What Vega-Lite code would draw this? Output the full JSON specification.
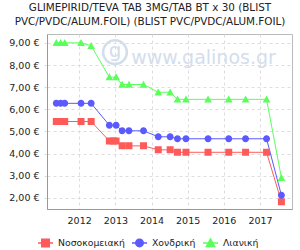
{
  "$schema": "https://vega.github.io/schema/vega-lite/v6.json",
  "width": 245,
  "height": 175,
  "autosize": "none",
  "padding": {"left": 47, "top": 34, "right": 8, "bottom": 41},
  "title": {
    "text": ["GLIMEPIRID/TEVA TAB 3MG/TAB BT x 30 (BLIST", "PVC/PVDC/ALUM.FOIL) (BLIST PVC/PVDC/ALUM.FOIL)"],
    "font": "DejaVu Sans", "fontSize": 10.4, "fontWeight": "normal", "color": "#222",
    "anchor": "middle", "dx": -19.5, "offset": 7, "lineHeight": 13.5
  },
  "config": {
    "view": {"stroke": "#bbb", "strokeWidth": 1},
    "axis": {"labelFont": "DejaVu Sans", "labelFontSize": 9.5, "labelColor": "#222", "domainColor": "#999", "gridColor": "#ddd", "gridDash": [3, 3], "title": null},
    "legend": {"labelFont": "DejaVu Sans", "labelFontSize": 9.3, "labelColor": "#222", "symbolSize": 225, "symbolStrokeWidth": 1.5, "labelOffset": 4, "columnPadding": 4}
  },
  "data": {"values": [
      {"date": "2011-05-15", "series": "Νοσοκομειακή", "value": 5.45},
      {"date": "2011-06-28", "series": "Νοσοκομειακή", "value": 5.45},
      {"date": "2011-08-08", "series": "Νοσοκομειακή", "value": 5.45},
      {"date": "2012-01-20", "series": "Νοσοκομειακή", "value": 5.45},
      {"date": "2012-05-01", "series": "Νοσοκομειακή", "value": 5.45},
      {"date": "2012-11-01", "series": "Νοσοκομειακή", "value": 4.57},
      {"date": "2012-12-10", "series": "Νοσοκομειακή", "value": 4.57},
      {"date": "2013-01-08", "series": "Νοσοκομειακή", "value": 4.57},
      {"date": "2013-03-10", "series": "Νοσοκομειακή", "value": 4.35},
      {"date": "2013-05-18", "series": "Νοσοκομειακή", "value": 4.35},
      {"date": "2013-10-12", "series": "Νοσοκομειακή", "value": 4.35},
      {"date": "2014-03-10", "series": "Νοσοκομειακή", "value": 4.17},
      {"date": "2014-07-08", "series": "Νοσοκομειακή", "value": 4.17},
      {"date": "2014-09-20", "series": "Νοσοκομειακή", "value": 4.06},
      {"date": "2014-12-15", "series": "Νοσοκομειακή", "value": 4.06},
      {"date": "2015-07-26", "series": "Νοσοκομειακή", "value": 4.06},
      {"date": "2016-02-20", "series": "Νοσοκομειακή", "value": 4.06},
      {"date": "2016-08-08", "series": "Νοσοκομειακή", "value": 4.06},
      {"date": "2017-03-08", "series": "Νοσοκομειακή", "value": 4.06},
      {"date": "2017-08-05", "series": "Νοσοκομειακή", "value": 1.83},
      {"date": "2011-05-15", "series": "Χονδρική", "value": 6.27},
      {"date": "2011-06-28", "series": "Χονδρική", "value": 6.27},
      {"date": "2011-08-08", "series": "Χονδρική", "value": 6.27},
      {"date": "2012-01-20", "series": "Χονδρική", "value": 6.27},
      {"date": "2012-05-01", "series": "Χονδρική", "value": 6.27},
      {"date": "2012-11-01", "series": "Χονδρική", "value": 5.28},
      {"date": "2013-01-08", "series": "Χονδρική", "value": 5.28},
      {"date": "2013-03-10", "series": "Χονδρική", "value": 5.03},
      {"date": "2013-05-18", "series": "Χονδρική", "value": 5.03},
      {"date": "2013-10-12", "series": "Χονδρική", "value": 5.03},
      {"date": "2014-03-10", "series": "Χονδρική", "value": 4.76},
      {"date": "2014-07-08", "series": "Χονδρική", "value": 4.76},
      {"date": "2014-09-20", "series": "Χονδρική", "value": 4.67},
      {"date": "2014-12-15", "series": "Χονδρική", "value": 4.67},
      {"date": "2015-07-26", "series": "Χονδρική", "value": 4.67},
      {"date": "2016-02-20", "series": "Χονδρική", "value": 4.67},
      {"date": "2016-08-08", "series": "Χονδρική", "value": 4.67},
      {"date": "2017-03-08", "series": "Χονδρική", "value": 4.67},
      {"date": "2017-08-05", "series": "Χονδρική", "value": 2.12},
      {"date": "2011-05-15", "series": "Λιανική", "value": 9.0},
      {"date": "2011-06-28", "series": "Λιανική", "value": 9.0},
      {"date": "2011-08-08", "series": "Λιανική", "value": 9.0},
      {"date": "2012-01-20", "series": "Λιανική", "value": 9.0},
      {"date": "2012-05-01", "series": "Λιανική", "value": 8.87},
      {"date": "2012-11-01", "series": "Λιανική", "value": 7.45},
      {"date": "2013-01-08", "series": "Λιανική", "value": 7.45},
      {"date": "2013-03-10", "series": "Λιανική", "value": 7.12},
      {"date": "2013-05-18", "series": "Λιανική", "value": 7.12},
      {"date": "2013-10-12", "series": "Λιανική", "value": 7.12},
      {"date": "2014-03-10", "series": "Λιανική", "value": 6.77},
      {"date": "2014-07-08", "series": "Λιανική", "value": 6.77},
      {"date": "2014-09-20", "series": "Λιανική", "value": 6.45},
      {"date": "2014-12-15", "series": "Λιανική", "value": 6.45},
      {"date": "2015-07-26", "series": "Λιανική", "value": 6.45},
      {"date": "2016-02-20", "series": "Λιανική", "value": 6.45},
      {"date": "2016-08-08", "series": "Λιανική", "value": 6.45},
      {"date": "2017-03-08", "series": "Λιανική", "value": 6.45},
      {"date": "2017-08-05", "series": "Λιανική", "value": 2.91}
  ]},
  "encoding": {
    "x": {
      "field": "date", "type": "temporal",
      "scale": {"domain": [{"year": 2011, "month": 2, "date": 10}, {"year": 2017, "month": 11, "date": 20}]},
      "axis": {"format": "%Y", "tickCount": {"interval": "year", "step": 1}, "ticks": false, "labelPadding": 6, "gridDash": [3, 3]}
    },
    "y": {
      "field": "value", "type": "quantitative",
      "scale": {"domain": [1.5, 9.4], "nice": false, "zero": false},
      "axis": {"values": [2, 3, 4, 5, 6, 7, 8, 9], "labelExpr": "replace(format(datum.value, '.2f'), '.', ',') + ' €'", "ticks": true, "tickSize": 5, "tickColor": "#ddd", "tickDash": [3, 3], "labelPadding": 3}
    }
  },
  "layer": [
    {
      "data": {"values": [{"date": "2015-06-10", "value": 8.3, "label": "www.galinos.gr"}]},
      "mark": {"type": "text", "font": "DejaVu Sans", "fontSize": 19, "color": "#d3deec", "align": "center", "baseline": "middle"},
      "encoding": {"text": {"field": "label"}}
    },
    {
      "data": {"values": [{"date": "2012-12-28", "value": 8.58, "label": "g"}]},
      "mark": {"type": "point", "shape": "circle", "size": 560, "filled": false, "stroke": "#d3deec", "strokeWidth": 2.5, "opacity": 1}
    },
    {
      "data": {"values": [{"date": "2012-12-28", "value": 8.58, "label": "g"}]},
      "mark": {"type": "text", "font": "DejaVu Sans", "fontSize": 20, "color": "#d3deec", "align": "center", "baseline": "middle", "dy": -1},
      "encoding": {"text": {"field": "label"}}
    },
    {
      "mark": {"type": "line", "strokeWidth": 1},
      "encoding": {
        "color": {"field": "series", "type": "nominal", "title": null,
          "scale": {"domain": ["Νοσοκομειακή", "Χονδρική", "Λιανική"], "range": ["#ff5a5a", "#5a5aff", "#5aff5a"]},
          "legend": {"orient": "none", "legendX": -10, "legendY": 200, "direction": "horizontal",
            "labelFont": "DejaVu Sans", "labelFontSize": 9.3, "columnPadding": 4, "labelOffset": 4, "symbolSize": 225,
            "encode": {"symbols": {"update": {"stroke": {"scale": "color", "field": "value"}, "strokeWidth": {"value": 1.5}}}}}}
      }
    },
    {
      "mark": {"type": "point", "filled": true, "opacity": 1, "size": 196, "strokeWidth": 0},
      "encoding": {
        "color": {"field": "series", "type": "nominal", "title": null,
          "scale": {"domain": ["Νοσοκομειακή", "Χονδρική", "Λιανική"], "range": ["#ff5a5a", "#5a5aff", "#5aff5a"]},
          "legend": {"orient": "none", "legendX": -10, "legendY": 200, "direction": "horizontal",
            "labelFont": "DejaVu Sans", "labelFontSize": 9.3, "columnPadding": 4, "labelOffset": 4, "symbolSize": 225,
            "encode": {"symbols": {"update": {"stroke": {"scale": "color", "field": "value"}, "strokeWidth": {"value": 1.5}}}}}
        },
        "shape": {"field": "series", "type": "nominal", "title": null,
          "scale": {"domain": ["Νοσοκομειακή", "Χονδρική", "Λιανική"],
            "range": ["M-1,0H1M-0.5,-0.5H0.5V0.5H-0.5Z", "M-1,0H1M-0.5,0A0.5,0.5 0 1,0 0.5,0A0.5,0.5 0 1,0 -0.5,0Z", "M-1,0H1M0,-0.55L0.55,0.45H-0.55Z"]},
          "legend": {"orient": "none", "legendX": -10, "legendY": 200, "direction": "horizontal",
            "labelFont": "DejaVu Sans", "labelFontSize": 9.3, "columnPadding": 4, "labelOffset": 4, "symbolSize": 225,
            "encode": {"symbols": {"update": {"stroke": {"scale": "color", "field": "value"}, "strokeWidth": {"value": 1.5}}}}}
        }
      }
    }
  ]
}
